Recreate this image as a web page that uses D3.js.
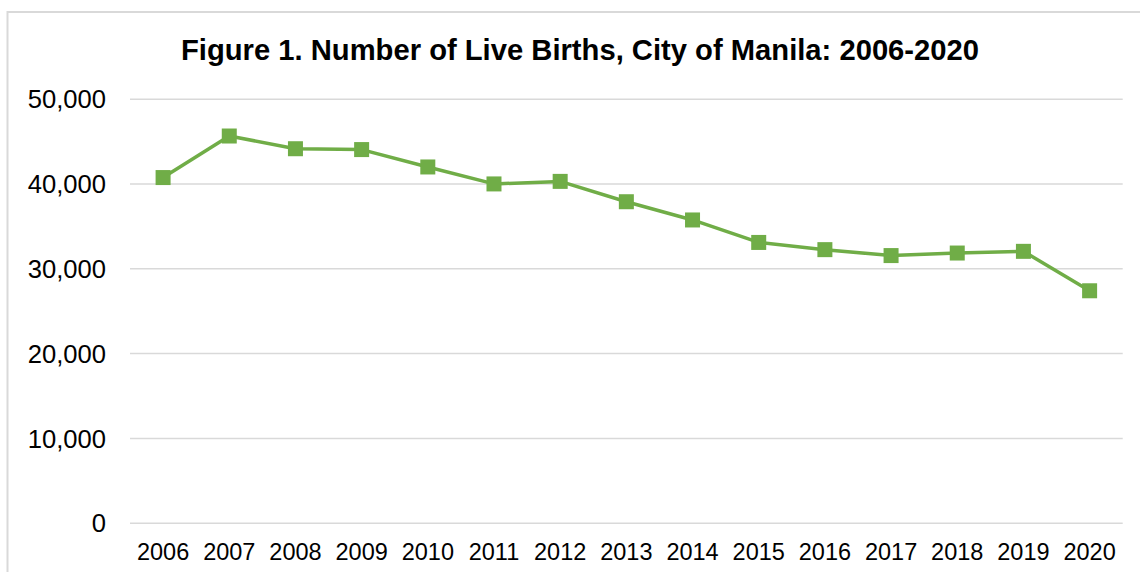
<!DOCTYPE html>
<html>
<head>
<meta charset="utf-8">
<script src="https://cdn.jsdelivr.net/npm/d3@7"></script>
<style>
  html, body { margin: 0; padding: 0; background: #fff; }
  svg { display: block; }
  text { font-family: "Liberation Sans", Arial, sans-serif; fill: #000; }
</style>
</head>
<body>
<svg id="chart" width="1140" height="572"></svg>
<script>
const titleText = "Figure 1. Number of Live Births, City of Manila: 2006-2020";
const years = ["2006","2007","2008","2009","2010","2011","2012","2013","2014","2015","2016","2017","2018","2019","2020"];
const births = [40700, 45600, 44100, 44000, 41950, 39950, 40250, 37850, 35700, 33050, 32200, 31500, 31800, 32000, 27350];
const yTicks = [0, 10000, 20000, 30000, 40000, 50000];

(function () {
const svg = d3.select("#chart");
const W = 1140, H = 572;
const mLeft = 130, mRight = 1122.7, mTop = 98.7, mBottom = 522.7;
const green = "#70ad47";
const grid = "#d9d9d9";

// outer frame (top and left visible)
svg.append("path")
  .attr("d", `M7.5,${H + 2} L7.5,12 L${W + 2},12`)
  .attr("fill", "none").attr("stroke", grid).attr("stroke-width", 2);

const x = d3.scaleBand().domain(years).range([mLeft, mRight]).paddingInner(0).paddingOuter(0);
const y = d3.scaleLinear().domain([0, 50000]).range([mBottom, mTop]);

// title
svg.append("text")
  .attr("x", 580).attr("y", 60)
  .attr("text-anchor", "middle")
  .style("font-size", "29.2px").style("font-weight", "bold")
  .text(titleText);

// y axis with gridlines
const yAxis = svg.append("g")
  .attr("transform", `translate(${mLeft},0)`)
  .call(d3.axisLeft(y).tickValues(yTicks).tickFormat(d3.format(",")).tickSize(-(mRight - mLeft)).tickPadding(24));
yAxis.select(".domain").remove();
yAxis.selectAll(".tick line").attr("stroke", grid).attr("stroke-width", 1.5);
yAxis.selectAll(".tick text")
  .attr("dy", "0.36em")
  .style("font-size", "25.6px")
  .style("font-family", "'Liberation Sans', Arial, sans-serif")
  .attr("fill", "#000");

// x axis labels
const xAxis = svg.append("g")
  .attr("transform", `translate(0,${mBottom})`)
  .call(d3.axisBottom(x).tickSize(0).tickPadding(20.6));
xAxis.select(".domain").remove();
xAxis.selectAll(".tick text")
  .style("font-size", "23.5px")
  .style("font-family", "'Liberation Sans', Arial, sans-serif")
  .attr("fill", "#000");

const cx = d => x(d) + x.bandwidth() / 2;
const data = years.map((yr, i) => ({ yr, v: births[i] }));

// line
svg.append("path")
  .datum(data)
  .attr("fill", "none")
  .attr("stroke", green)
  .attr("stroke-width", 3.5)
  .attr("stroke-linejoin", "round")
  .attr("d", d3.line().x(d => cx(d.yr)).y(d => y(d.v)));

// markers
const ms = 15;
svg.append("g").selectAll("rect")
  .data(data).join("rect")
  .attr("x", d => cx(d.yr) - ms / 2)
  .attr("y", d => y(d.v) - ms / 2)
  .attr("width", ms).attr("height", ms)
  .attr("fill", green);
})();
</script>
</body>
</html>
